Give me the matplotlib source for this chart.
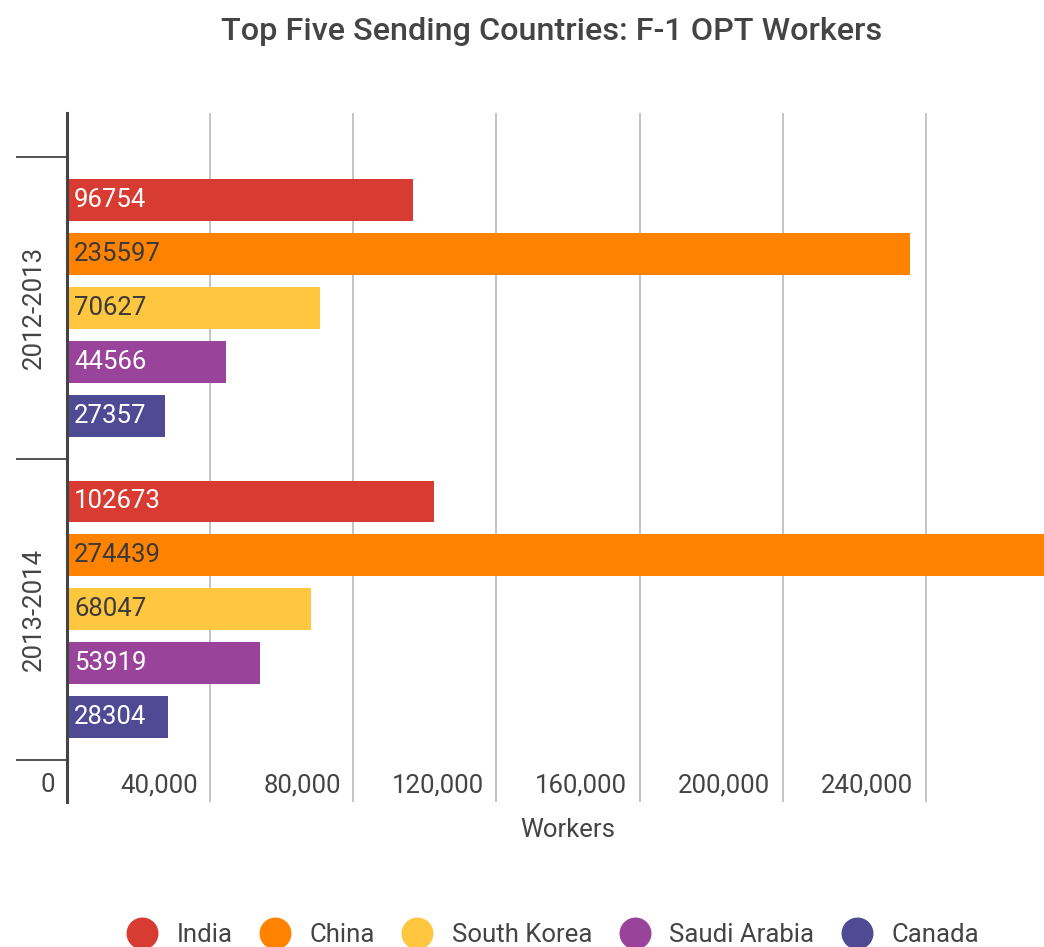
import matplotlib
matplotlib.use("Agg")
import matplotlib.pyplot as plt
from matplotlib.lines import Line2D
import numpy as np

plt.rcParams['font.family'] = ['Roboto', 'DejaVu Sans']

years = ["2012-2013", "2013-2014"]
countries = ["India", "China", "South Korea", "Saudi Arabia", "Canada"]
colors = ["#D83B31", "#FF8300", "#FFC63F", "#99449A", "#4F4A94"]
label_colors = ["white", "#3a3a3a", "#3a3a3a", "white", "white"]
values = {
    "India": [96754, 102673],
    "China": [235597, 274439],
    "South Korea": [70627, 68047],
    "Saudi Arabia": [44566, 53919],
    "Canada": [27357, 28304],
}
xticks = [0, 40000, 80000, 120000, 160000, 200000, 240000]
xticklabels = ["0", "40,000", "80,000", "120,000", "160,000", "200,000", "240,000"]

fig = plt.figure(figsize=(10.44, 9.47), dpi=100)
ax = fig.add_axes([67 / 1044, 1 - 802 / 947, 1002 / 1044, 689 / 947])

step = 0.1788
height = 0.139
for i, c in enumerate(countries):
    ypos = np.arange(len(years)) + (i - 2) * step
    ax.barh(ypos, values[c], height=height, color=colors[i], zorder=2)
    for y, v in zip(ypos, values[c]):
        ax.annotate(str(v), (0, y), xytext=(5, 0), textcoords="offset points",
                    ha="left", va="center", fontsize=18.5, color=label_colors[i], zorder=3)

ax.set_xlim(0, 280000)
ax.set_ylim(1.639, -0.646)

ax.set_xticks(xticks)
ax.set_xticklabels([])
ax.tick_params(axis="x", length=0)
ax.grid(axis="x", color="#c4c4c4", linewidth=1.4, zorder=1)
for t, lab in zip(xticks, xticklabels):
    ax.annotate(lab, (t, 0), xycoords=("data", "axes fraction"), xytext=(-9, 12),
                textcoords="offset points", ha="right", va="center",
                fontsize=18.5, color="#444444")

ax.set_yticks([0, 1])
ax.set_yticklabels(years, rotation=90, va="center", fontsize=18.5, color="#444444")
ax.tick_params(axis="y", which="major", length=0, pad=15)
ax.set_yticks([-0.5, 0.5, 1.5], minor=True)
ax.tick_params(axis="y", which="minor", length=37, width=1.3, color="#444444")

for s in ["top", "right", "bottom"]:
    ax.spines[s].set_visible(False)
ax.spines["left"].set_linewidth(2.2)
ax.spines["left"].set_color("#444444")
ax.spines["left"].set_zorder(4)

fig.text(568 / 1044, 1 - 830 / 947, "Workers", ha="center", va="center",
         fontsize=18.5, color="#444444")
fig.text(552 / 1044, 1 - 31 / 947, "Top Five Sending Countries: F-1 OPT Workers",
         ha="center", va="center", fontsize=23.3, fontweight="medium", color="#444444")

handles = [Line2D([], [], marker="o", linestyle="", markersize=22,
                  markerfacecolor=col, markeredgecolor=col) for col in colors]
fig.legend(handles, countries, loc="center", bbox_to_anchor=(552 / 1044, 1 - 935 / 947),
           ncol=5, frameon=False, fontsize=18.5, labelcolor="#444444",
           handletextpad=0.7, columnspacing=1.0, handlelength=1.3)

fig.savefig("out.png", dpi=100)
